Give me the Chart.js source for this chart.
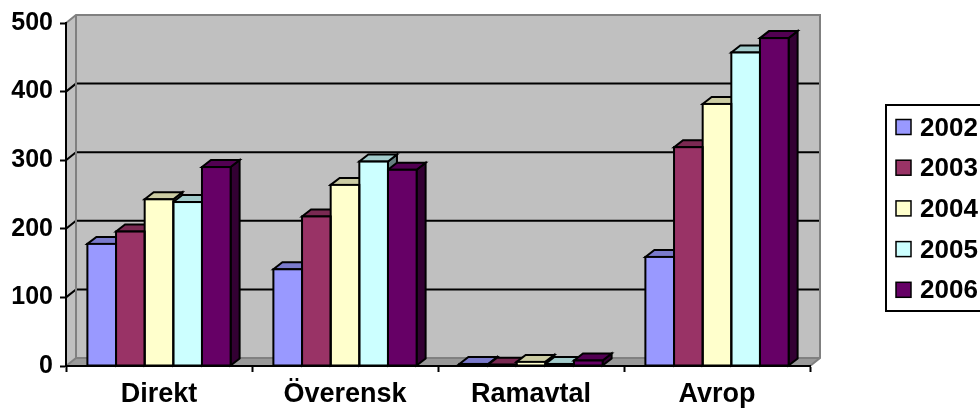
<!DOCTYPE html>
<html>
<head>
<meta charset="utf-8">
<script src="https://cdn.jsdelivr.net/npm/chart.js@4.4.1/dist/chart.umd.min.js"></script>
<style>
  html, body { margin: 0; padding: 0; background: #fff; }
</style>
</head>
<body>
<canvas id="chart" width="980" height="408"></canvas>
<script>
const categories = ['Direkt', 'Överensk', 'Ramavtal', 'Avrop'];
const years = ['2002', '2003', '2004', '2005', '2006'];
const values2002 = [178, 141, 3, 159];
const values2003 = [196, 218, 2, 319];
const values2004 = [243, 264, 6, 382];
const values2005 = [239, 298, 3, 457];
const values2006 = [290, 286, 8, 478];
const yTicks = [0, 100, 200, 300, 400, 500];

const seriesValues = [values2002, values2003, values2004, values2005, values2006];
const colors = ['#9999FF', '#993366', '#FFFFCC', '#CCFFFF', '#660066'];

const FONT = "'Liberation Sans', Arial, sans-serif";
// depth of the walls and of each column, in px (goes up and right)
const WALL_DX = 10, WALL_DY = 8;
const BAR_DX = 9, BAR_DY = 7;

function shade(hex, f) {
  const n = parseInt(hex.slice(1), 16);
  const r = Math.round(((n >> 16) & 255) * f);
  const g = Math.round(((n >> 8) & 255) * f);
  const b = Math.round((n & 255) * f);
  return `rgb(${r},${g},${b})`;
}

function poly(ctx, pts, fill, stroke, lw) {
  ctx.beginPath();
  ctx.moveTo(pts[0][0], pts[0][1]);
  for (let i = 1; i < pts.length; i++) ctx.lineTo(pts[i][0], pts[i][1]);
  ctx.closePath();
  if (fill) { ctx.fillStyle = fill; ctx.fill(); }
  if (stroke) { ctx.strokeStyle = stroke; ctx.lineWidth = lw; ctx.stroke(); }
}

// gray back wall, side wall, floor and the gridlines behind the columns
const walls = {
  id: 'walls',
  beforeDraw(chart) {
    const { ctx, scales: { x, y } } = chart;
    const l = x.left, r = x.right;
    const t = y.getPixelForValue(yTicks[yTicks.length - 1]);
    const b = y.getPixelForValue(yTicks[0]);
    ctx.save();
    poly(ctx, [[l + WALL_DX, t - WALL_DY], [r + WALL_DX, t - WALL_DY], [r + WALL_DX, b - WALL_DY], [l + WALL_DX, b - WALL_DY]], '#c0c0c0');
    poly(ctx, [[l, t], [l + WALL_DX, t - WALL_DY], [l + WALL_DX, b - WALL_DY], [l, b]], '#c0c0c0');
    poly(ctx, [[l, b], [l + WALL_DX, b - WALL_DY], [r + WALL_DX, b - WALL_DY], [r, b]], '#999999');

    ctx.lineCap = 'butt';
    yTicks.slice(1, -1).forEach(v => {
      const py = y.getPixelForValue(v);
      ctx.strokeStyle = '#000';
      ctx.lineWidth = 2;
      ctx.beginPath();
      ctx.moveTo(l, py);
      ctx.lineTo(l + WALL_DX, py - WALL_DY);
      ctx.lineTo(r + WALL_DX, py - WALL_DY);
      ctx.stroke();
    });

    // wall edges
    ctx.strokeStyle = '#808080';
    ctx.lineWidth = 2;
    ctx.beginPath();
    ctx.moveTo(l, t);
    ctx.lineTo(l + WALL_DX, t - WALL_DY);
    ctx.lineTo(r + WALL_DX, t - WALL_DY);
    ctx.lineTo(r + WALL_DX, b - WALL_DY);
    ctx.lineTo(r, b);
    ctx.moveTo(l + WALL_DX, t - WALL_DY);
    ctx.lineTo(l + WALL_DX, b - WALL_DY);
    ctx.lineTo(r + WALL_DX, b - WALL_DY);
    ctx.moveTo(l, b);
    ctx.lineTo(l + WALL_DX, b - WALL_DY);
    ctx.stroke();
    ctx.restore();
  }
};

function barBoxes(chart) {
  const out = [];
  for (let c = 0; c < chart.data.labels.length; c++) {
    chart.data.datasets.forEach((ds, d) => {
      const el = chart.getDatasetMeta(d).data[c];
      const p = el.getProps(['x', 'y', 'base', 'width'], true);
      out.push({ L: p.x - p.width / 2, R: p.x + p.width / 2, top: p.y, base: p.base, color: ds.backgroundColor });
    });
  }
  return out;
}

// side and top faces, left to right, before the fronts are filled
const columns3d = {
  id: 'columns3d',
  beforeDatasetsDraw(chart) {
    const ctx = chart.ctx;
    ctx.save();
    ctx.lineJoin = 'miter';
    barBoxes(chart).forEach(bx => {
      poly(ctx, [[bx.R, bx.top], [bx.R + BAR_DX, bx.top - BAR_DY], [bx.R + BAR_DX, bx.base - BAR_DY], [bx.R, bx.base]], shade(bx.color, 0.5), '#000', 2);
      poly(ctx, [[bx.L, bx.top], [bx.L + BAR_DX, bx.top - BAR_DY], [bx.R + BAR_DX, bx.top - BAR_DY], [bx.R, bx.top]], shade(bx.color, 0.8), '#000', 2);
    });
    ctx.restore();
  },
  afterDatasetsDraw(chart) {
    const ctx = chart.ctx;
    ctx.save();
    ctx.strokeStyle = '#000';
    ctx.lineWidth = 2;
    barBoxes(chart).forEach(bx => {
      ctx.strokeRect(bx.L, bx.top, bx.R - bx.L, bx.base - bx.top);
    });
    ctx.restore();
  }
};

const legendBox = {
  id: 'legendBox',
  afterDraw(chart) {
    const ctx = chart.ctx;
    ctx.save();
    ctx.strokeStyle = '#000';
    ctx.lineWidth = 2;
    ctx.strokeRect(886, 105, 120, 206);
    chart.data.datasets.forEach((ds, i) => {
      const cy = 127.5 + i * 40.7;
      ctx.fillStyle = ds.backgroundColor;
      ctx.fillRect(896, cy - 8, 15, 15);
      ctx.lineWidth = 1.5;
      ctx.strokeRect(896, cy - 8, 15, 15);
      ctx.fillStyle = '#000';
      ctx.font = `bold 26px ${FONT}`;
      ctx.textBaseline = 'middle';
      ctx.textAlign = 'left';
      ctx.fillText(ds.label, 920, cy + 1);
    });
    ctx.restore();
  }
};

new Chart(document.getElementById('chart'), {
  type: 'bar',
  data: {
    labels: categories,
    datasets: years.map((yr, i) => ({
      label: yr,
      data: seriesValues[i],
      backgroundColor: colors[i],
      borderWidth: 0
    }))
  },
  options: {
    responsive: false,
    animation: false,
    events: [],
    categoryPercentage: 0.77,
    barPercentage: 1.0,
    layout: { padding: { top: 23, right: 170, left: 0, bottom: 0 } },
    plugins: { legend: { display: false }, tooltip: { enabled: false } },
    scales: {
      x: {
        offset: true,
        grid: { drawOnChartArea: false, drawTicks: true, tickLength: 6, tickWidth: 2, tickColor: '#000', offset: true },
        border: { display: true, color: '#000', width: 2 },
        ticks: { color: '#000', font: { family: FONT, size: 27, weight: 'bold' }, padding: 6, maxRotation: 0 },
        afterFit(scale) { scale.height = 42; }
      },
      y: {
        min: yTicks[0],
        max: yTicks[yTicks.length - 1],
        ticks: { stepSize: yTicks[1] - yTicks[0], color: '#000', font: { family: FONT, size: 25, weight: 'bold' }, padding: 7 },
        grid: { drawOnChartArea: false, drawTicks: true, tickLength: 6, tickWidth: 2, tickColor: '#000' },
        border: { display: true, color: '#000', width: 2 },
        afterFit(scale) { scale.width = 66; }
      }
    }
  },
  plugins: [walls, columns3d, legendBox]
});
</script>
</body>
</html>
